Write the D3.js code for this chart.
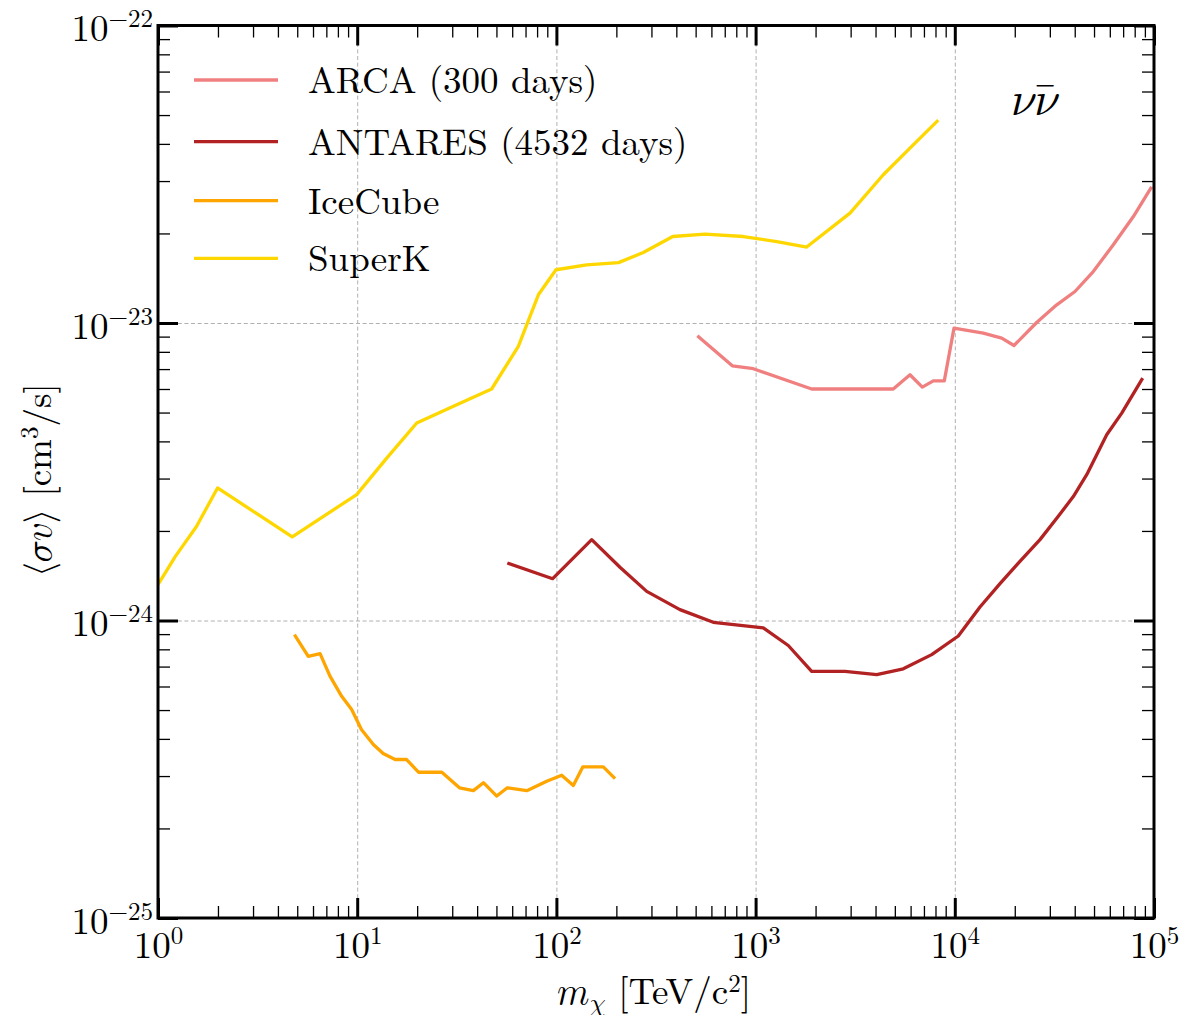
<!DOCTYPE html>
<html>
<head>
<meta charset="utf-8">
<script src="https://cdn.jsdelivr.net/npm/d3@7"></script>
<style>
  html, body { margin: 0; padding: 0; background: #fff; }
  svg { display: block; }
</style>
</head>
<body>
<svg id="chart" width="1202" height="1015" style="font-family:'Latin Modern Roman','Liberation Serif',serif"></svg>
<script>
// ---------------- data ----------------
const seriesNames = ["ARCA (300 days)", "ANTARES (4532 days)", "IceCube", "SuperK"];
const seriesColors = ["#F08080", "#B22222", "#FFA500", "#FFD700"];

const arcaMass  = [510, 764, 974, 1912, 4911, 5957, 6870, 7800, 8855, 9908, 13900, 17200, 19820, 25760, 32480, 40120, 49550, 62480, 78780, 97300];
const arcaSigma = [9.06e-24, 7.18e-24, 7.02e-24, 6.00e-24, 6.00e-24, 6.70e-24, 6.09e-24, 6.39e-24, 6.39e-24, 9.61e-24, 9.25e-24, 8.90e-24, 8.40e-24, 1.004e-23, 1.151e-23, 1.276e-23, 1.489e-23, 1.832e-23, 2.28e-23, 2.87e-23];

const antaresMass  = [56.7, 95.8, 150.4, 208.5, 284, 417, 613, 1093, 1459, 1912, 2810, 4055, 5513, 7656, 10410, 13380, 16860, 21230, 26770, 33080, 39350, 45950, 57890, 68870, 87740];
const antaresSigma = [1.561e-24, 1.382e-24, 1.87e-24, 1.51e-24, 1.253e-24, 1.088e-24, 9.86e-25, 9.44e-25, 8.24e-25, 6.75e-25, 6.75e-25, 6.58e-25, 6.88e-25, 7.68e-25, 8.87e-25, 1.11e-24, 1.33e-24, 1.58e-24, 1.87e-24, 2.24e-24, 2.61e-24, 3.09e-24, 4.21e-24, 4.98e-24, 6.53e-24];

const icecubeMass  = [4.84, 5.68, 6.51, 7.30, 8.36, 9.38, 10.5, 12.05, 13.5, 15.5, 17.7, 20.3, 26.6, 32.6, 38.3, 43.0, 50.2, 56.7, 71.0, 89.4, 106.3, 121.6, 135.6, 172, 197];
const icecubeSigma = [8.97e-25, 7.58e-25, 7.74e-25, 6.50e-25, 5.56e-25, 5.02e-25, 4.30e-25, 3.83e-25, 3.57e-25, 3.41e-25, 3.41e-25, 3.09e-25, 3.09e-25, 2.74e-25, 2.68e-25, 2.85e-25, 2.57e-25, 2.74e-25, 2.68e-25, 2.88e-25, 3.02e-25, 2.79e-25, 3.22e-25, 3.22e-25, 2.94e-25];

const superkMass  = [1.0, 1.22, 1.56, 1.99, 4.72, 9.94, 14.1, 19.9, 31.6, 47.3, 64.4, 81.2, 99.5, 142, 205, 273, 384, 557, 868, 1277, 1805, 2978, 4375, 5956, 8260];
const superkSigma = [1.32e-24, 1.64e-24, 2.07e-24, 2.79e-24, 1.91e-24, 2.65e-24, 3.52e-24, 4.61e-24, 5.31e-24, 6.00e-24, 8.34e-24, 1.244e-23, 1.51e-23, 1.568e-23, 1.596e-23, 1.725e-23, 1.953e-23, 1.99e-23, 1.953e-23, 1.879e-23, 1.80e-23, 2.34e-23, 3.15e-23, 3.87e-23, 4.81e-23];

const xMajorTicks = [1, 10, 100, 1000, 10000, 100000];
const xTickExp    = ["0", "1", "2", "3", "4", "5"];
const yMajorTicks = [1e-25, 1e-24, 1e-23, 1e-22];
const yTickExp    = ["\u221225", "\u221224", "\u221223", "\u221222"];

// ---------------- layout ----------------
const L = 158, R = 1154, T = 25.5, B = 918;
const svg = d3.select("#chart");
const MATH = "'Latin Modern Math','Latin Modern Roman','DejaVu Serif',serif";

const x = d3.scaleLog().domain([1, 1e5]).range([L, R]);
const y = d3.scaleLog().domain([1e-25, 1e-22]).range([B, T]);

const xMinor = [];
for (let e = 0; e < 5; e++) for (let k = 2; k <= 9; k++) xMinor.push(k * Math.pow(10, e));
const yMinor = [];
for (let e = -25; e < -22; e++) for (let k = 2; k <= 9; k++) yMinor.push(k * Math.pow(10, e));

svg.append("defs").append("clipPath").attr("id", "clip")
  .append("rect").attr("x", L).attr("y", T).attr("width", R - L).attr("height", B - T);

// ---------------- grid ----------------
const gridX = svg.append("g").attr("transform", `translate(0,${B})`)
  .call(d3.axisBottom(x).tickValues(xMajorTicks.slice(1, -1)).tickSize(-(B - T)).tickFormat(""));
const gridY = svg.append("g").attr("transform", `translate(${L},0)`)
  .call(d3.axisLeft(y).tickValues(yMajorTicks.slice(1, -1)).tickSize(-(R - L)).tickFormat(""));
[gridX, gridY].forEach(g => {
  g.select(".domain").remove();
  g.selectAll("line").attr("stroke", "#b0b0b0").attr("stroke-width", 1).attr("stroke-dasharray", "4,2.6");
});

// ---------------- series ----------------
const series = [
  { m: arcaMass, s: arcaSigma },
  { m: antaresMass, s: antaresSigma },
  { m: icecubeMass, s: icecubeSigma },
  { m: superkMass, s: superkSigma }
];
const line = d3.line().x(d => x(d[0])).y(d => y(d[1]));
const plotG = svg.append("g").attr("clip-path", "url(#clip)");
series.forEach((sr, i) => {
  const pts = sr.m.map((v, j) => [v, sr.s[j]]);
  plotG.append("path").datum(pts)
    .attr("d", line)
    .attr("fill", "none")
    .attr("stroke", seriesColors[i])
    .attr("stroke-width", 3.3)
    .attr("stroke-linejoin", "round")
    .attr("stroke-linecap", "butt");
});

// ---------------- axes / ticks ----------------
function styleTicks(g, w) {
  g.select(".domain").remove();
  g.selectAll("line").attr("stroke", "#000").attr("stroke-width", w);
}
styleTicks(svg.append("g").attr("transform", `translate(0,${B})`)
  .call(d3.axisBottom(x).tickValues(xMinor).tickSize(-12).tickFormat("")), 1.3);
styleTicks(svg.append("g").attr("transform", `translate(0,${T})`)
  .call(d3.axisTop(x).tickValues(xMinor).tickSize(-12).tickFormat("")), 1.3);
styleTicks(svg.append("g").attr("transform", `translate(${L},0)`)
  .call(d3.axisLeft(y).tickValues(yMinor).tickSize(-12).tickFormat("")), 1.3);
styleTicks(svg.append("g").attr("transform", `translate(${R},0)`)
  .call(d3.axisRight(y).tickValues(yMinor).tickSize(-12).tickFormat("")), 1.3);

const xAxisG = svg.append("g").attr("transform", `translate(0,${B})`)
  .call(d3.axisBottom(x).tickValues(xMajorTicks).tickSize(-20).tickFormat(""));
styleTicks(xAxisG, 3);
styleTicks(svg.append("g").attr("transform", `translate(0,${T})`)
  .call(d3.axisTop(x).tickValues(xMajorTicks).tickSize(-20).tickFormat("")), 3);
const yAxisG = svg.append("g").attr("transform", `translate(${L},0)`)
  .call(d3.axisLeft(y).tickValues(yMajorTicks).tickSize(-20).tickFormat(""));
styleTicks(yAxisG, 3);
styleTicks(svg.append("g").attr("transform", `translate(${R},0)`)
  .call(d3.axisRight(y).tickValues(yMajorTicks).tickSize(-20).tickFormat("")), 3);

xAxisG.selectAll(".tick").each(function (d, i) {
  const t = d3.select(this).append("text")
    .attr("x", 0).attr("y", 40).attr("text-anchor", "middle")
    .attr("font-size", 37).attr("fill", "#000").style("font-family", "'Latin Modern Roman',serif");
  t.append("tspan").text("10");
  t.append("tspan").attr("dy", -14).attr("font-size", 25).text(xTickExp[i]);
});
yAxisG.selectAll(".tick").each(function (d, i) {
  const t = d3.select(this).append("text")
    .attr("x", -5).attr("y", 15).attr("text-anchor", "end")
    .attr("font-size", 37).attr("fill", "#000").style("font-family", "'Latin Modern Roman',serif");
  t.append("tspan").text("10");
  t.append("tspan").attr("dy", -14).attr("font-size", 25).text(yTickExp[i]);
});

svg.append("rect").attr("x", L).attr("y", T).attr("width", R - L).attr("height", B - T)
  .attr("fill", "none").attr("stroke", "#000").attr("stroke-width", 3);

// ---------------- axis labels ----------------
const xl = svg.append("text").attr("x", 654).attr("y", 1004).attr("text-anchor", "middle")
  .attr("font-size", 37);
xl.append("tspan").style("font-family", MATH).text("\uD835\uDC5A");
xl.append("tspan").style("font-family", MATH).attr("font-size", 26).attr("dy", 7).text("\uD835\uDF12");
xl.append("tspan").attr("dy", -7).text(" [TeV/c");
xl.append("tspan").attr("font-size", 25).attr("dy", -12).text("2");
xl.append("tspan").attr("dy", 12).text("]");

const yl = svg.append("text").attr("transform", "translate(51,480) rotate(-90)")
  .attr("text-anchor", "middle").attr("font-size", 37);
yl.append("tspan").style("font-family", MATH).text("\u27E8\uD835\uDF0E\uD835\uDC63\u27E9");
yl.append("tspan").text(" [cm");
yl.append("tspan").attr("font-size", 25).attr("dy", -13).text("3");
yl.append("tspan").attr("dy", 13).text("/s]");

// ---------------- panel label ----------------
svg.append("text").attr("x", 1011).attr("y", 115).attr("font-size", 47)
  .style("font-family", MATH).text("\uD835\uDF08\uD835\uDF08\u0304");

// ---------------- legend ----------------
const legendY = [80, 141.7, 200.7, 258.3];
const lg = svg.append("g");
seriesNames.forEach((name, i) => {
  lg.append("line").attr("x1", 194).attr("x2", 278).attr("y1", legendY[i]).attr("y2", legendY[i])
    .attr("stroke", seriesColors[i]).attr("stroke-width", 3.3);
  lg.append("text").attr("x", 308).attr("y", legendY[i] + 13)
    .attr("font-size", 37).text(name);
});
</script>
</body>
</html>
